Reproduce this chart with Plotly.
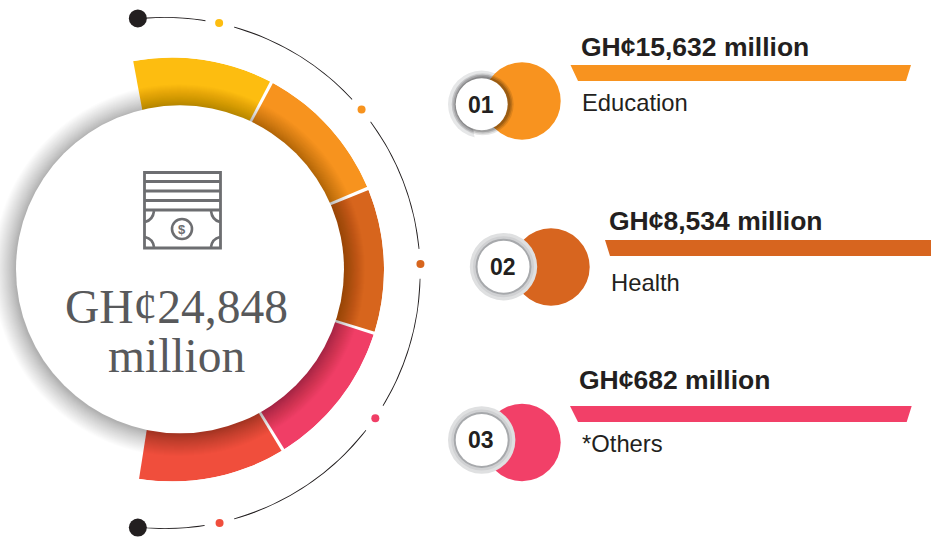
import plotly.graph_objects as go

W, H = 931, 538

# ---- data ----
total_amount = [24848]
categories = ["Education", "Health", "*Others"]
amounts = [15632, 8534, 682]
badges = ["01", "02", "03"]

ring_start = [-11, 28, 67.5, 107.5, 148.4]
ring_end = [28, 67.5, 107.5, 148.4, 189.4]
ring_colors = ["#FDBD10", "#F7931E", "#D7651D", "#F03E66", "#F04E3C"]

arc_theta = [-6, -2, 2, 6, 9.2, None,
             15.8, 24, 32, 40, 47.2, None,
             53.7, 61, 69, 77, 84.6, None,
             91.3, 99, 107, 115, 121.3, None,
             128, 137, 146, 155, 164.2, None,
             171, 175, 179, 183, 186]
arc_radius = [256, 256, 256, 256, 256, None,
              256, 256, 256, 256, 256, None,
              256, 256, 256, 256, 256, None,
              256, 256, 256, 256, 256, None,
              256, 256, 256, 256, 256, None,
              256, 256, 256, 256, 256]
dot_theta = [12.3, 50.3, 88, 124.6, 167.6]
end_theta = [-6, 186]

panel_colors = ["#F8931F", "#D7651F", "#F24068"]

INK = "#231F20"
GREY = "#6D6E71"
SERIF = "Liberation Serif"
SANS = "Liberation Sans"


def dom_x(a, b):
    return [a / W, b / W]


def dom_y(a, b):
    return [1 - b / H, 1 - a / H]


fig = go.Figure()

# hidden pixel axes for the overlay
fig.add_trace(go.Scatter(x=[0, W], y=[0, H], mode="markers",
                         marker=dict(opacity=0, size=1), hoverinfo="skip",
                         showlegend=False))

# ring
GAP = 0.9
fig.add_trace(go.Barpolar(
    theta=[(a + b) / 2 for a, b in zip(ring_start, ring_end)],
    width=[b - a - GAP for a, b in zip(ring_start, ring_end)],
    r=[212] * len(ring_start),
    marker=dict(color=ring_colors, line=dict(width=0)),
    hoverinfo="skip", showlegend=False, subplot="polar"))

# thin arc and dots
fig.add_trace(go.Scatterpolar(
    theta=arc_theta, r=arc_radius, mode="lines",
    line=dict(color=INK, width=1.7, shape="spline"), connectgaps=False,
    hoverinfo="skip", showlegend=False, subplot="polar2"))
fig.add_trace(go.Scatterpolar(
    theta=dot_theta, r=[256] * len(dot_theta), mode="markers",
    marker=dict(color=ring_colors, size=8, line=dict(width=0)),
    hoverinfo="skip", showlegend=False, subplot="polar2"))
fig.add_trace(go.Scatterpolar(
    theta=end_theta, r=[256] * len(end_theta), mode="markers",
    marker=dict(color=INK, size=18, line=dict(width=0)),
    hoverinfo="skip", showlegend=False, subplot="polar2"))

shapes = []


def circle(cx, cy, r, fill, opacity=1.0, line=None, lw=0):
    shapes.append(dict(type="circle", xref="x", yref="y",
                       x0=cx - r, x1=cx + r, y0=cy - r, y1=cy + r,
                       fillcolor=fill, opacity=opacity,
                       line=dict(color=line or "rgba(0,0,0,0)", width=lw),
                       layer="above"))


def path(d, fill=None, line=None, lw=0):
    shapes.append(dict(type="path", xref="x", yref="y", path=d,
                       fillcolor=fill or "rgba(0,0,0,0)",
                       line=dict(color=line or "rgba(0,0,0,0)", width=lw),
                       layer="above"))


def rect(x0, y0, x1, y1, line, lw):
    shapes.append(dict(type="rect", xref="x", yref="y", x0=x0, x1=x1, y0=y0, y1=y1,
                       fillcolor="rgba(0,0,0,0)", line=dict(color=line, width=lw),
                       layer="above"))


def hline(x0, x1, y, line, lw):
    shapes.append(dict(type="line", xref="x", yref="y", x0=x0, x1=x1, y0=y, y1=y,
                       line=dict(color=line, width=lw), layer="above"))


# soft shadow of the central disc
CX, CY, CR = 180, 269.3, 164
N = 26
for i in range(N, 0, -1):
    circle(CX - 1, CY + 1, CR + 22 * (i / N) ** 1.2, "#000000", opacity=0.012)
circle(CX, CY, CR, "#FFFFFF")

# money icon
rect(144.5, 172.5, 220.5, 248, GREY, 2.8)
for y in (181.5, 191, 200.5, 210):
    hline(144.5, 220.5, y, GREY, 2.8)
path("M 145 222 Q 153 220 154 211", None, GREY, 2.6)
path("M 220 222 Q 212 220 211 211", None, GREY, 2.6)
path("M 145 237 Q 153 239 154 247", None, GREY, 2.6)
path("M 220 237 Q 212 239 211 247", None, GREY, 2.6)
circle(182, 229, 10, "#FFFFFF", line=GREY, lw=2.6)

# right panels
panel_geo = [
    dict(cx=522, cy=101, bx=481.7, by=104.3,
         bar="M 570.5 65 L 911 65 L 906 81 L 578 81 Z"),
    dict(cx=551, cy=267, bx=503.5, by=266.7,
         bar="M 605 240 L 931 240 L 931 256 L 610 256 Z"),
    dict(cx=522, cy=442.5, bx=481.7, by=440,
         bar="M 570 406 L 911.7 406 L 906.7 422 L 578 422 Z"),
]
for i, g in enumerate(panel_geo):
    col = panel_colors[i]
    path(g["bar"], col)
    if i == 0:
        circle(g["bx"], g["by"], 33.7, "#E6E7E8")
        circle(g["bx"], g["by"], 30, "#D8D9DB")
        path("M 473 128 L 476 146 L 503 146 L 503 128 Z", "#FFFFFF")
        circle(g["cx"], g["cy"], 38.7, col)
        for r, op in ((31, 0.10), (29.5, 0.14), (28, 0.18)):
            circle(g["bx"] + 1, g["by"], r, "#000000", opacity=op)
    else:
        circle(g["cx"], g["cy"], 38.7, col)
        circle(g["bx"], g["by"], 33.7, "#DFE0E1")
        circle(g["bx"], g["by"], 30.5, "#D0D1D3")
        circle(g["bx"], g["by"], 28, "#A7A9AC")
    circle(g["bx"], g["by"], 26, "#FFFFFF")

# text
ann = []


def text(x, y, s, size, color, family=SANS, bold=False, anchor="left"):
    ann.append(dict(x=x, y=y, xref="x", yref="y", text=f"<b>{s}</b>" if bold else s,
                    showarrow=False, xanchor=anchor, yanchor="middle",
                    font=dict(family=family, size=size, color=color),
                    borderpad=0, borderwidth=0))


text(176, 306.5, f"GH¢{total_amount[0]:,}", 47.5, "#58595B", family=SERIF, anchor="center")
text(176.5, 355.5, "million", 47.5, "#58595B", family=SERIF, anchor="center")
text(182, 229, "$", 13, GREY, bold=True, anchor="center")

head_pos = [(580.5, 47), (609, 221), (579, 380)]
label_pos = [(582, 102), (610.5, 282), (582, 443)]
badge_nudge = [(-0.5, 0.5), (-1, 0), (-1, 0)]
for i, g in enumerate(panel_geo):
    text(head_pos[i][0], head_pos[i][1], f"GH¢{amounts[i]:,} million", 26.5, INK, bold=True)
    text(label_pos[i][0], label_pos[i][1], categories[i], 23.8, INK)
    text(g["bx"] + badge_nudge[i][0], g["by"] + badge_nudge[i][1], badges[i], 23, INK,
         bold=True, anchor="center")

hidden_polar = dict(
    bgcolor="rgba(0,0,0,0)",
    angularaxis=dict(visible=False, direction="clockwise", rotation=90, thetaunit="degrees"),
)

fig.update_layout(
    width=W, height=H, autosize=False,
    margin=dict(l=0, r=0, t=0, b=0, pad=0),
    paper_bgcolor="#FFFFFF", plot_bgcolor="rgba(0,0,0,0)",
    showlegend=False, dragmode=False,
    xaxis=dict(range=[0, W], visible=False, domain=[0, 1], fixedrange=True),
    yaxis=dict(range=[H, 0], visible=False, domain=[0, 1], fixedrange=True),
    polar=dict(domain=dict(x=dom_x(172 - 40.45, 384), y=dom_y(57.5, 481.5)),
               sector=[-100, 101],
               radialaxis=dict(visible=False, range=[0, 212]), **hidden_polar),
    polar2=dict(domain=dict(x=dom_x(164.6 - 31.2, 420.6), y=dom_y(17, 529)),
                sector=[-97, 97],
                radialaxis=dict(visible=False, range=[0, 256]), **hidden_polar),
    shapes=shapes, annotations=ann,
)

fig.write_html("out.html", config=dict(displayModeBar=False),
               post_script="document.body.style.margin='0';document.documentElement.style.overflow='hidden';")
